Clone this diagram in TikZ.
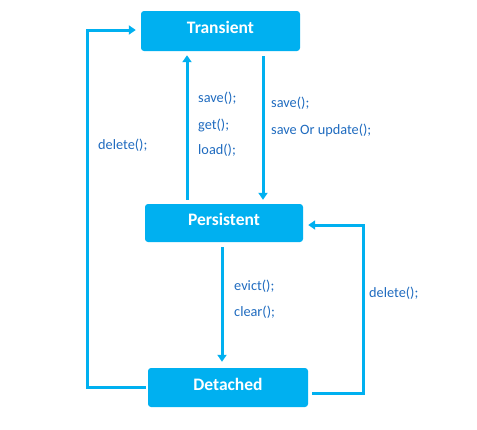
\documentclass[tikz,border=0pt]{standalone}
\usepackage{fontspec}
\setmainfont{Carlito}
\usetikzlibrary{arrows.meta}
\definecolor{boxcyan}{HTML}{00B0F0}
\definecolor{labblue}{HTML}{1F6BBF}
\begin{document}
\begin{tikzpicture}[x=1pt,y=-1pt,
  state/.style={fill=boxcyan,rounded corners=3pt,text=white,font=\bfseries\fontsize{17.5}{20}\selectfont,inner sep=0pt,text height=12pt,text depth=7pt},
  conn/.style={draw=boxcyan,line width=3pt,-{Triangle[width=9pt,length=7pt]}},
  lab/.style={text=labblue,font=\fontsize{14.3}{16}\selectfont,anchor=west,inner sep=0pt}]
\useasboundingbox (0,0) rectangle (477,429);
\node[state,minimum width=159pt,minimum height=40pt] (tr) at (220.5,31) {Transient};
\node[state,minimum width=158pt,minimum height=38pt] (pe) at (224,223) {Persistent};
\node[state,minimum width=160pt,minimum height=39pt] (de) at (228,387.5) {Detached};
% Persistent <-> Transient
\draw[conn,shorten <=4pt,shorten >=4pt] ([xshift=-37pt]pe.north) -- ([xshift=-33.5pt]tr.south);
\draw[conn,shorten <=5pt,shorten >=4pt] ([xshift=42.5pt]tr.south) -- ([xshift=39pt]pe.north);
% Persistent -> Detached
\draw[conn,shorten <=5pt,shorten >=6pt] ([xshift=-2pt]pe.south) -- ([xshift=-6pt]de.north);
% Detached -> Transient loop
\coordinate (lc) at (87,388);
\draw[conn,shorten <=2pt,shorten >=5pt] (de.west) -- (de.west -| lc) |- ([yshift=1pt]tr.west);
% Detached -> Persistent loop
\coordinate (rc) at (363,393);
\draw[conn,shorten <=4pt,shorten >=5pt] ([yshift=-5.5pt]de.east) -- (rc) |- ([yshift=-2pt]pe.east);
% labels
\node[lab] (l1) at (198,98) {save();};
\node[lab] (l2) at (198,125) {get();};
\node[lab] (l3) at (198,150) {load();};
\node[lab] (l4) at (271,103) {save();};
\node[lab] (l5) at (271,130) {save Or update();};
\node[lab] (l6) at (98,145) {delete();};
\node[lab] (l7) at (234,286) {evict();};
\node[lab] (l8) at (234,312) {clear();};
\node[lab] (l9) at (369,293) {delete();};
\end{tikzpicture}
\end{document}
